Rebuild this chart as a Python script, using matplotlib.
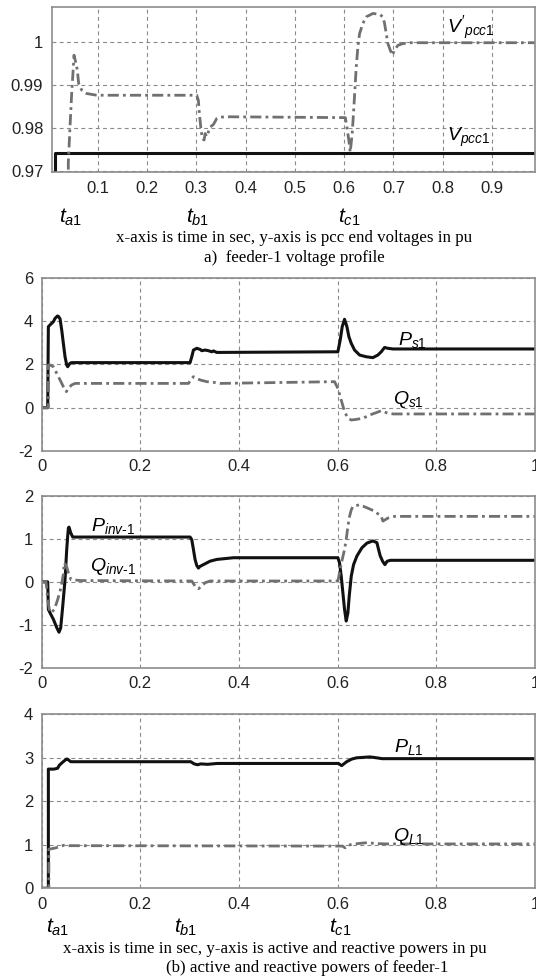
import matplotlib
matplotlib.use("Agg")
import matplotlib.pyplot as plt
from matplotlib.ticker import FixedLocator, FixedFormatter

plt.rcParams['font.family'] = ['Liberation Sans', 'DejaVu Sans']
plt.rcParams['mathtext.fontset'] = 'custom'
plt.rcParams['mathtext.it'] = 'Liberation Sans:italic'
plt.rcParams['mathtext.rm'] = 'Liberation Sans'

# ---------------- data ----------------
# Panel a) feeder-1 voltages (pu)
v_pcc_t = [0.0069, 0.0136, 0.0136, 0.987]
v_pcc_v = [0.960, 0.960, 0.9741, 0.9741]

vp_pcc_t = [0.0406, 0.0406, 0.0440, 0.0474, 0.0508, 0.0521, 0.0562, 0.0589, 0.0616,
            0.0677, 0.0778, 0.0982, 0.3010, 0.3044, 0.3064, 0.3098, 0.3125, 0.3160,
            0.3180, 0.3215, 0.3247, 0.3281, 0.3348, 0.3416, 0.3484, 0.3620, 0.6024,
            0.6055, 0.6095, 0.6123, 0.6163, 0.6197, 0.6245, 0.6278, 0.6312, 0.6380,
            0.6447, 0.6583, 0.6718, 0.6786, 0.6819, 0.6853, 0.6887, 0.6934, 0.6975,
            0.7022, 0.7090, 0.7191, 0.7326, 0.987]
vp_pcc_v = [0.960, 0.9720, 0.9802, 0.9880, 0.9942, 0.9969, 0.9950, 0.9934, 0.9903,
            0.9888, 0.9880, 0.9876, 0.9876, 0.9864, 0.9833, 0.9795, 0.9775, 0.9772,
            0.9787, 0.9780, 0.9791, 0.9802, 0.9808, 0.9822, 0.9825, 0.9826, 0.9824,
            0.9802, 0.9771, 0.9744, 0.9787, 0.9849, 0.9942, 0.9988, 1.0019, 1.0043,
            1.0058, 1.0066, 1.0064, 1.0058, 1.0043, 1.0019, 0.9996, 0.9981, 0.9969,
            0.9981, 0.9992, 0.9996, 0.9998, 0.9998]

# Panel 2: P_s1 / Q_s1
ps_t = [0.0, 0.0122, 0.0135, 0.0169, 0.0237, 0.0270, 0.0318, 0.0338, 0.0372, 0.0406,
        0.0439, 0.0473, 0.0507, 0.0527, 0.0574, 0.0608, 0.3008, 0.3042, 0.3076,
        0.3144, 0.3211, 0.3245, 0.3313, 0.3380, 0.3448, 0.3482, 0.3549, 0.6004,
        0.6051, 0.6092, 0.6139, 0.6187, 0.6227, 0.6275, 0.6342, 0.6444, 0.6579,
        0.6714, 0.6815, 0.6883, 0.6951, 0.7018, 0.7120, 0.7255, 1.0]
ps_v = [0.0, 0.0, 3.74, 3.82, 3.97, 4.12, 4.23, 4.22, 4.10, 3.58, 2.97, 2.35, 1.97,
        1.89, 2.05, 2.08, 2.08, 2.35, 2.66, 2.74, 2.69, 2.63, 2.66, 2.63, 2.58, 2.62,
        2.55, 2.58, 3.12, 3.74, 4.08, 3.74, 3.28, 2.97, 2.66, 2.43, 2.35, 2.31, 2.43,
        2.58, 2.78, 2.74, 2.71, 2.71, 2.71]

qs_t = [0.0, 0.0135, 0.0135, 0.0169, 0.0237, 0.0270, 0.0305, 0.0372, 0.0439, 0.0500,
        0.0540, 0.0608, 0.0676, 0.0777, 0.2975, 0.3042, 0.3076, 0.3144, 0.3211,
        0.3347, 0.3482, 0.3617, 0.5936, 0.6004, 0.6072, 0.6139, 0.6207, 0.6275,
        0.6376, 0.6511, 0.6646, 0.6782, 0.6883, 0.6984, 0.7120, 1.0]
qs_v = [0.0, 0.0, 1.97, 1.97, 1.89, 1.74, 1.58, 1.28, 0.97, 0.74, 0.89, 1.05, 1.12,
        1.12, 1.12, 1.35, 1.43, 1.35, 1.28, 1.20, 1.17, 1.12, 1.20, 0.89, 0.35,
        -0.18, -0.49, -0.57, -0.54, -0.49, -0.34, -0.23, -0.14, -0.23, -0.29, -0.29]

# Panel 3: P_inv-1 / Q_inv-1
pinv_t = [0.0, 0.0122, 0.0135, 0.0169, 0.0237, 0.0304, 0.0351, 0.0385, 0.0426,
          0.0473, 0.0507, 0.0527, 0.0541, 0.0554, 0.0588, 0.0629, 0.3008, 0.3042,
          0.3076, 0.3109, 0.3143, 0.3177, 0.3211, 0.3279, 0.3346, 0.3414, 0.3549,
          0.3887, 0.6004, 0.6038, 0.6072, 0.6106, 0.6139, 0.6173, 0.6207, 0.6234,
          0.6275, 0.6322, 0.6390, 0.6491, 0.6593, 0.6714, 0.6795, 0.6829, 0.6863,
          0.6910, 0.6957, 0.7004, 0.7072, 1.0]
pinv_v = [0.0, 0.0, -0.64, -0.72, -0.87, -1.06, -1.17, -1.07, -0.57, 0.05, 0.75,
          1.06, 1.25, 1.27, 1.14, 1.04, 1.04, 0.98, 0.75, 0.52, 0.38, 0.32, 0.36,
          0.40, 0.44, 0.48, 0.52, 0.56, 0.56, 0.44, 0.13, -0.26, -0.64, -0.91, -0.72,
          -0.33, 0.13, 0.40, 0.60, 0.79, 0.90, 0.95, 0.91, 0.75, 0.60, 0.48, 0.40,
          0.48, 0.50, 0.50]

qinv_t = [0.0, 0.0088, 0.0122, 0.0155, 0.0189, 0.0257, 0.0324, 0.0392, 0.0439,
          0.0456, 0.0504, 0.0541, 0.0595, 0.0800, 0.3042, 0.3109, 0.3177, 0.3245,
          0.3313, 0.3414, 0.5936, 0.6004, 0.6038, 0.6092, 0.6139, 0.6173, 0.6207,
          0.6241, 0.6275, 0.6308, 0.6444, 0.6613, 0.6748, 0.6883, 0.6917, 0.7018,
          0.7153, 1.0]
qinv_v = [0.0, 0.0, -0.41, -0.64, -0.72, -0.64, -0.41, -0.13, 0.18, 0.44, 0.36,
          0.21, 0.05, 0.03, 0.02, -0.10, -0.16, -0.10, -0.02, 0.02, 0.02, 0.02, 0.21,
          0.52, 0.75, 0.98, 1.29, 1.52, 1.67, 1.75, 1.79, 1.71, 1.64, 1.52, 1.41,
          1.48, 1.52, 1.52]

# Panel 4: P_L1 / Q_L1
pl_t = [0.0, 0.0135, 0.0135, 0.0250, 0.0323, 0.0358, 0.0426, 0.0500, 0.0521, 0.0555,
        0.0589, 0.3022, 0.3090, 0.3160, 0.3225, 0.3360, 0.3560, 0.3900, 0.6016,
        0.6080, 0.6182, 0.6284, 0.6385, 0.6520, 0.6655, 0.6790, 0.6900, 1.0]
pl_v = [0.0, 0.0, 2.74, 2.74, 2.76, 2.83, 2.90, 2.97, 2.97, 2.94, 2.91, 2.91, 2.86,
        2.84, 2.86, 2.85, 2.87, 2.87, 2.87, 2.82, 2.91, 2.97, 3.00, 3.01, 3.02, 3.00,
        2.98, 2.98]

ql_t = [0.0, 0.0145, 0.0145, 0.0250, 0.0350, 0.0450, 0.0550, 0.6100, 0.6150, 0.6200,
        0.6350, 0.6600, 0.6750, 0.7000, 1.0]
ql_v = [0.0, 0.0, 0.90, 0.92, 0.95, 0.99, 0.98, 0.97, 0.93, 0.99, 1.02, 1.05,
        1.03, 1.02, 1.02]

# ---------------- styling ----------------
W, H = 536, 980
fig = plt.figure(figsize=(W / 100, H / 100), dpi=100)

SOLID = dict(color='#111111', lw=2.2, solid_joinstyle='round')
DASHDOT = dict(color='#707070', lw=2.0, linestyle=(0, (4, 1.5, 1, 1.5)))
GRIDC = '#8a8a8a'
SPINEC = '#8c8c8c'
TICKFS = 12


def px_axes(left, top, right, bottom):
    return fig.add_axes([left / W, 1 - bottom / H, (right - left) / W, (bottom - top) / H])


def style(ax, xt, xl, yt, yl, xlim, ylim):
    ax.set_xlim(*xlim)
    ax.set_ylim(*ylim)
    ax.xaxis.set_major_locator(FixedLocator(xt))
    ax.xaxis.set_major_formatter(FixedFormatter(xl))
    ax.yaxis.set_major_locator(FixedLocator(yt))
    ax.yaxis.set_major_formatter(FixedFormatter(yl))
    ax.tick_params(length=0, labelsize=TICKFS, colors='#222222', pad=6)
    for s in ax.spines.values():
        s.set_color(SPINEC)
        s.set_linewidth(1.2)
    ax.grid(True, color=GRIDC, linestyle=(0, (3.5, 3)), linewidth=0.8)
    ax.set_axisbelow(True)


def ftext(x, y, s, ha='center', **kw):
    fig.text(x / W, 1 - y / H, s, ha=ha, va='center', **kw)


# Panel a
ax1 = px_axes(51.7, 7, 535, 172.3)
ax1.plot(v_pcc_t, v_pcc_v, **SOLID)
ax1.plot(vp_pcc_t, vp_pcc_v, **DASHDOT)
style(ax1, [0.1, 0.2, 0.3, 0.4, 0.5, 0.6, 0.7, 0.8, 0.9],
      ['0.1', '0.2', '0.3', '0.4', '0.5', '0.6', '0.7', '0.8', '0.9'],
      [0.97, 0.98, 0.99, 1.0], ['0.97', '0.98', '0.99', '1'],
      (0.0069, 0.987), (0.9697, 1.0081))
ax1.text(0.808, 1.0033, r"$V'_{pcc1}$", fontsize=14, ha='left', va='center')
ax1.text(0.808, 0.9777, r"$V_{pcc1}$", fontsize=14, ha='left', va='center')

# Panel 2
ax2 = px_axes(41.7, 277.7, 535, 451)
ax2.plot(ps_t, ps_v, **SOLID)
ax2.plot(qs_t, qs_v, **DASHDOT)
style(ax2, [0, 0.2, 0.4, 0.6, 0.8, 1.0], ['0', '0.2', '0.4', '0.6', '0.8', '1'],
      [-2, 0, 2, 4, 6], ['-2', '0', '2', '4', '6'], (0, 1.0), (-2, 6))
ax2.text(0.722, 3.12, r"$P_{s1}$", fontsize=14, ha='left', va='center')
ax2.text(0.712, 0.36, r"$Q_{s1}$", fontsize=14, ha='left', va='center')

# Panel 3
ax3 = px_axes(41.7, 495.7, 535, 668)
ax3.plot(pinv_t, pinv_v, **SOLID)
ax3.plot(qinv_t, qinv_v, **DASHDOT)
style(ax3, [0, 0.2, 0.4, 0.6, 0.8, 1.0], ['0', '0.2', '0.4', '0.6', '0.8', '1'],
      [-2, -1, 0, 1, 2], ['-2', '-1', '0', '1', '2'], (0, 1.0), (-2, 2))
ax3.text(0.100, 1.29, r"$P_{\mathit{inv\text{-}1}}$", fontsize=14, ha='left', va='center')
ax3.text(0.098, 0.36, r"$Q_{\mathit{inv\text{-}1}}$", fontsize=14, ha='left', va='center')

# Panel 4
ax4 = px_axes(41.7, 714.3, 535, 888.3)
ax4.plot(pl_t, pl_v, **SOLID)
ax4.plot(ql_t, ql_v, **DASHDOT)
style(ax4, [0, 0.2, 0.4, 0.6, 0.8, 1.0], ['0', '0.2', '0.4', '0.6', '0.8', '1'],
      [0, 1, 2, 3, 4], ['0', '1', '2', '3', '4'], (0, 1.0), (0, 4))
ax4.text(0.715, 3.25, r"$P_{L1}$", fontsize=14, ha='left', va='center')
ax4.text(0.712, 1.19, r"$Q_{L1}$", fontsize=14, ha='left', va='center')

# time-instant labels
for (x, y, s) in [(71, 217, r"$t_{\mathit{a1}}$"), (198, 217, r"$t_{\mathit{b1}}$"),
                  (349, 217, r"$t_{\mathit{c1}}$"), (58, 927, r"$t_{\mathit{a1}}$"),
                  (186, 927, r"$t_{\mathit{b1}}$"), (340, 927, r"$t_{\mathit{c1}}$")]:
    ftext(x, y, s, fontsize=15)

SERIF = ['Liberation Serif', 'DejaVu Serif']
CFS = 12.2
ftext(294.5, 238, "x-axis is time in sec, y-axis is pcc end voltages in pu",
      fontsize=CFS, family=SERIF)
ftext(294, 258, "a)  feeder-1 voltage profile", fontsize=CFS, family=SERIF)
ftext(275, 949, "x-axis is time in sec, y-axis is active and reactive powers in pu",
      fontsize=CFS, family=SERIF)
ftext(166, 968, "(b) active and reactive powers of feeder-1", ha='left',
      fontsize=CFS, family=SERIF)

fig.savefig("out.png", dpi=100)
